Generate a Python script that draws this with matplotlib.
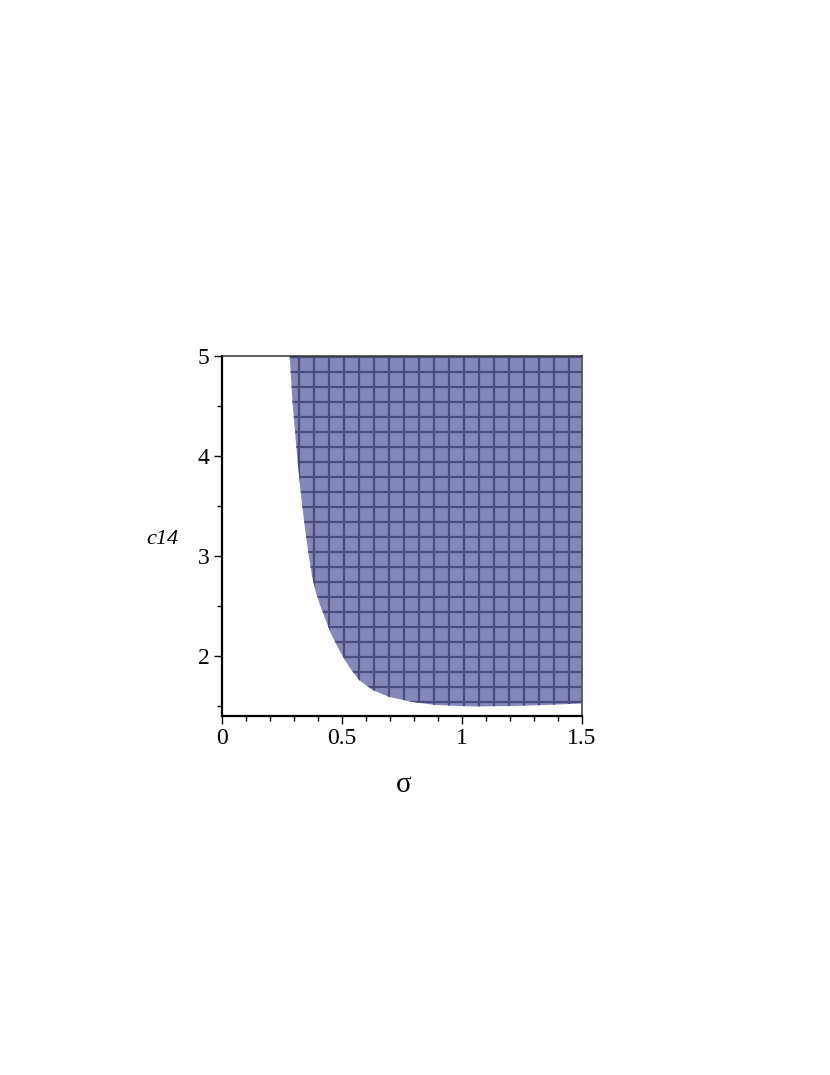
import matplotlib
matplotlib.use("Agg")
import numpy as np
import matplotlib.pyplot as plt
from matplotlib.ticker import MultipleLocator

plt.rcParams["font.family"] = ["Liberation Serif", "DejaVu Serif"]

# lower-left boundary of the feasible region (sigma, c14)
sigma_edge = [0.282, 0.295, 0.313, 0.334, 0.350, 0.362, 0.375, 0.392, 0.41,
              0.432, 0.455, 0.488, 0.53, 0.571, 0.627, 0.697, 0.794, 0.89,
              1.05, 1.21, 1.35, 1.5]
c14_edge = [5.0, 4.5, 4.0, 3.5, 3.2, 3.0, 2.8, 2.63, 2.5,
            2.36, 2.22, 2.06, 1.89, 1.76, 1.66, 1.59, 1.54, 1.51,
            1.495, 1.50, 1.51, 1.525]

x_ticks = [0, 0.5, 1, 1.5]
x_labels = ["0", "0.5", "1", "1.5"]
y_ticks = [2, 3, 4, 5]
y_labels = ["2", "3", "4", "5"]

fill_color = "#8587b9"
line_color = "#4a4c80"

fig = plt.figure(figsize=(8.3, 10.75), dpi=100)
ax = fig.add_axes([222 / 830, 1 - 716 / 1075, 360 / 830, 360 / 1075])

# region: boundary curve, then up the right edge and back along the top
px = sigma_edge + [1.5]
py = c14_edge + [5.0]
patch = ax.fill(px, py, color=fill_color, lw=0, zorder=2)[0]

# checker grid drawn inside the region only
for gx in np.arange(0.008, 1.5, 1.5 / 24):
    ln, = ax.plot([gx, gx], [1.3, 5.1], color=line_color, lw=1.6, zorder=3)
    ln.set_clip_path(patch)
for gy in np.arange(1.39, 5.0, 0.15):
    ln, = ax.plot([-0.1, 1.6], [gy, gy], color=line_color, lw=1.6, zorder=3)
    ln.set_clip_path(patch)

ax.set_xlim(0, 1.5)
ax.set_ylim(1.4, 5.0)

ax.set_xticks(x_ticks)
ax.set_xticklabels(x_labels)
ax.set_yticks(y_ticks)
ax.set_yticklabels(y_labels)
ax.xaxis.set_minor_locator(MultipleLocator(0.1))
ax.yaxis.set_minor_locator(MultipleLocator(0.5))
ax.tick_params(which="major", direction="out", length=6, width=1.0,
               labelsize=17, pad=3)
ax.tick_params(which="minor", direction="out", length=3.5, width=1.0)

for side in ["left", "bottom"]:
    ax.spines[side].set_linewidth(1.6)
    ax.spines[side].set_color("black")
ax.spines["top"].set_linewidth(1.1)
ax.spines["top"].set_color("#333333")
ax.spines["right"].set_linewidth(1.3)
ax.spines["right"].set_color("#555555")
for s in ax.spines.values():
    s.set_zorder(5)

ax.text(-0.167, 0.489, "c14", transform=ax.transAxes, ha="center",
        va="center", fontsize=16, style="italic")
ax.text(0.506, -0.192, "σ", transform=ax.transAxes, ha="center",
        va="center", fontsize=21)

fig.savefig("out.png", dpi=100)
